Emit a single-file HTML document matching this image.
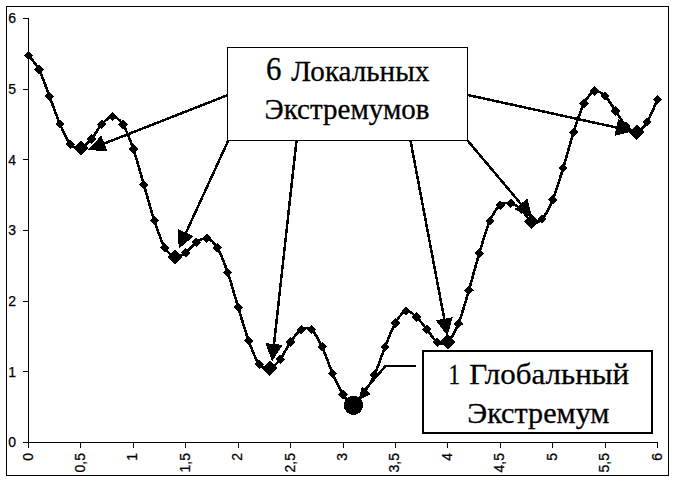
<!DOCTYPE html>
<html><head><meta charset="utf-8"><style>
html,body{margin:0;padding:0;background:#fff;width:676px;height:483px;overflow:hidden}
svg{display:block}
</style></head><body>
<svg width="676" height="483" viewBox="0 0 676 483">
<g fill="#000" shape-rendering="crispEdges">
<rect x="6" y="6" width="663" height="1"/><rect x="6" y="475" width="663" height="1"/>
<rect x="6" y="6" width="1" height="470"/><rect x="668" y="6" width="1" height="470"/>
<rect x="28" y="18" width="1" height="425"/>
<rect x="23" y="442" width="635" height="1"/>
<rect x="23" y="18" width="6" height="1"/>
<rect x="23" y="89" width="6" height="1"/>
<rect x="23" y="159" width="6" height="1"/>
<rect x="23" y="230" width="6" height="1"/>
<rect x="23" y="301" width="6" height="1"/>
<rect x="23" y="371" width="6" height="1"/>
<rect x="23" y="442" width="6" height="1"/>
<rect x="28" y="442" width="1" height="6"/>
<rect x="80" y="442" width="1" height="6"/>
<rect x="133" y="442" width="1" height="6"/>
<rect x="185" y="442" width="1" height="6"/>
<rect x="238" y="442" width="1" height="6"/>
<rect x="290" y="442" width="1" height="6"/>
<rect x="343" y="442" width="1" height="6"/>
<rect x="395" y="442" width="1" height="6"/>
<rect x="447" y="442" width="1" height="6"/>
<rect x="500" y="442" width="1" height="6"/>
<rect x="552" y="442" width="1" height="6"/>
<rect x="605" y="442" width="1" height="6"/>
<rect x="657" y="442" width="1" height="6"/>
</g>
<g font-family="Liberation Sans, sans-serif" font-size="14" fill="#000" stroke="#000" stroke-width="0.25">
<text x="16" y="23.2" text-anchor="end">6</text>
<text x="16" y="93.9" text-anchor="end">5</text>
<text x="16" y="164.5" text-anchor="end">4</text>
<text x="16" y="235.2" text-anchor="end">3</text>
<text x="16" y="305.9" text-anchor="end">2</text>
<text x="16" y="376.5" text-anchor="end">1</text>
<text x="16" y="447.2" text-anchor="end">0</text>
<text transform="translate(28.5,453) rotate(-90)" x="0" y="4" text-anchor="end">0</text>
<text transform="translate(80.9,453) rotate(-90)" x="0" y="4" text-anchor="end">0,5</text>
<text transform="translate(133.3,453) rotate(-90)" x="0" y="4" text-anchor="end">1</text>
<text transform="translate(185.8,453) rotate(-90)" x="0" y="4" text-anchor="end">1,5</text>
<text transform="translate(238.2,453) rotate(-90)" x="0" y="4" text-anchor="end">2</text>
<text transform="translate(290.6,453) rotate(-90)" x="0" y="4" text-anchor="end">2,5</text>
<text transform="translate(343.0,453) rotate(-90)" x="0" y="4" text-anchor="end">3</text>
<text transform="translate(395.4,453) rotate(-90)" x="0" y="4" text-anchor="end">3,5</text>
<text transform="translate(447.8,453) rotate(-90)" x="0" y="4" text-anchor="end">4</text>
<text transform="translate(500.2,453) rotate(-90)" x="0" y="4" text-anchor="end">4,5</text>
<text transform="translate(552.7,453) rotate(-90)" x="0" y="4" text-anchor="end">5</text>
<text transform="translate(605.1,453) rotate(-90)" x="0" y="4" text-anchor="end">5,5</text>
<text transform="translate(657.5,453) rotate(-90)" x="0" y="4" text-anchor="end">6</text>
</g>
<path d="M28.50,55.60 C30.25,57.92 35.49,62.73 38.98,69.50 C42.48,76.27 45.97,87.12 49.47,96.20 C52.96,105.28 56.46,116.00 59.95,124.00 C63.44,132.00 66.94,140.20 70.43,144.20 C73.93,148.20 77.42,148.87 80.92,148.00 C84.41,147.13 87.91,142.97 91.40,139.00 C94.89,135.03 98.39,127.93 101.88,124.20 C105.38,120.47 108.87,116.55 112.37,116.60 C115.86,116.65 119.36,119.10 122.85,124.50 C126.34,129.90 129.84,138.97 133.33,149.00 C136.83,159.03 140.32,172.78 143.82,184.70 C147.31,196.62 150.81,210.02 154.30,220.50 C157.79,230.98 161.29,241.53 164.78,247.60 C168.28,253.67 171.77,256.03 175.27,256.90 C178.76,257.77 182.26,255.22 185.75,252.80 C189.24,250.38 192.74,244.82 196.23,242.40 C199.73,239.98 203.22,237.43 206.72,238.30 C210.21,239.17 213.71,241.90 217.20,247.60 C220.69,253.30 224.19,262.57 227.68,272.50 C231.18,282.43 234.67,295.83 238.17,307.20 C241.66,318.57 245.16,331.18 248.65,340.70 C252.14,350.22 255.64,359.73 259.13,364.30 C262.63,368.87 266.12,368.92 269.62,368.10 C273.11,367.28 276.61,363.75 280.10,359.40 C283.59,355.05 287.09,346.95 290.58,342.00 C294.08,337.05 297.57,331.75 301.07,329.70 C304.56,327.65 308.06,326.87 311.55,329.70 C315.04,332.53 318.54,339.43 322.03,346.70 C325.53,353.97 329.02,365.35 332.52,373.30 C336.01,381.25 339.51,389.07 343.00,394.40 C346.49,399.73 349.99,405.50 353.48,405.30 C356.98,405.10 360.47,398.25 363.97,393.20 C367.46,388.15 370.96,382.67 374.45,375.00 C377.94,367.33 381.44,355.88 384.93,347.20 C388.43,338.52 391.92,328.93 395.42,322.90 C398.91,316.87 402.41,311.98 405.90,311.00 C409.39,310.02 412.89,313.93 416.38,317.00 C419.88,320.07 423.37,325.20 426.87,329.40 C430.36,333.60 433.86,340.15 437.35,342.20 C440.84,344.25 444.34,344.73 447.83,341.70 C451.33,338.67 454.82,332.53 458.32,324.00 C461.81,315.47 465.31,302.28 468.80,290.50 C472.29,278.72 475.79,264.88 479.28,253.30 C482.78,241.72 486.27,229.02 489.77,221.00 C493.26,212.98 496.76,208.15 500.25,205.20 C503.74,202.25 507.24,202.58 510.73,203.30 C514.23,204.02 517.72,206.43 521.22,209.50 C524.71,212.57 528.21,220.12 531.70,221.70 C535.19,223.28 538.69,222.67 542.18,219.00 C545.68,215.33 549.17,208.18 552.67,199.70 C556.16,191.22 559.66,179.37 563.15,168.10 C566.64,156.83 570.14,142.87 573.63,132.10 C577.13,121.33 580.62,110.33 584.12,103.50 C587.61,96.67 591.11,92.33 594.60,91.10 C598.09,89.87 601.59,92.78 605.08,96.10 C608.58,99.42 612.07,106.03 615.57,111.00 C619.06,115.97 622.56,122.38 626.05,125.90 C629.54,129.42 633.04,132.72 636.53,132.10 C640.03,131.48 643.52,127.67 647.02,122.20 C650.51,116.73 655.75,103.12 657.50,99.30" fill="none" stroke="#000" stroke-width="2.6" shape-rendering="crispEdges"/>
<g fill="#000" shape-rendering="crispEdges"><path d="M28.50,50.90L33.20,55.60L28.50,60.30L23.80,55.60Z"/><path d="M38.98,64.80L43.68,69.50L38.98,74.20L34.28,69.50Z"/><path d="M49.47,91.50L54.17,96.20L49.47,100.90L44.77,96.20Z"/><path d="M59.95,119.30L64.65,124.00L59.95,128.70L55.25,124.00Z"/><path d="M70.43,139.50L75.13,144.20L70.43,148.90L65.73,144.20Z"/><path d="M80.92,140.40L88.52,148.00L80.92,155.60L73.32,148.00Z"/><path d="M91.40,134.30L96.10,139.00L91.40,143.70L86.70,139.00Z"/><path d="M101.88,119.50L106.58,124.20L101.88,128.90L97.18,124.20Z"/><path d="M112.37,111.90L117.07,116.60L112.37,121.30L107.67,116.60Z"/><path d="M122.85,119.80L127.55,124.50L122.85,129.20L118.15,124.50Z"/><path d="M133.33,144.30L138.03,149.00L133.33,153.70L128.63,149.00Z"/><path d="M143.82,180.00L148.52,184.70L143.82,189.40L139.12,184.70Z"/><path d="M154.30,215.80L159.00,220.50L154.30,225.20L149.60,220.50Z"/><path d="M164.78,242.90L169.48,247.60L164.78,252.30L160.08,247.60Z"/><path d="M175.27,249.30L182.87,256.90L175.27,264.50L167.67,256.90Z"/><path d="M185.75,248.10L190.45,252.80L185.75,257.50L181.05,252.80Z"/><path d="M196.23,237.70L200.93,242.40L196.23,247.10L191.53,242.40Z"/><path d="M206.72,233.60L211.42,238.30L206.72,243.00L202.02,238.30Z"/><path d="M217.20,242.90L221.90,247.60L217.20,252.30L212.50,247.60Z"/><path d="M227.68,267.80L232.38,272.50L227.68,277.20L222.98,272.50Z"/><path d="M238.17,302.50L242.87,307.20L238.17,311.90L233.47,307.20Z"/><path d="M248.65,336.00L253.35,340.70L248.65,345.40L243.95,340.70Z"/><path d="M259.13,359.60L263.83,364.30L259.13,369.00L254.43,364.30Z"/><path d="M269.62,360.50L277.22,368.10L269.62,375.70L262.02,368.10Z"/><path d="M280.10,354.70L284.80,359.40L280.10,364.10L275.40,359.40Z"/><path d="M290.58,337.30L295.28,342.00L290.58,346.70L285.88,342.00Z"/><path d="M301.07,325.00L305.77,329.70L301.07,334.40L296.37,329.70Z"/><path d="M311.55,325.00L316.25,329.70L311.55,334.40L306.85,329.70Z"/><path d="M322.03,342.00L326.73,346.70L322.03,351.40L317.33,346.70Z"/><path d="M332.52,368.60L337.22,373.30L332.52,378.00L327.82,373.30Z"/><path d="M343.00,389.70L347.70,394.40L343.00,399.10L338.30,394.40Z"/><circle cx="353.48" cy="405.30" r="9.6"/><path d="M363.97,388.50L368.67,393.20L363.97,397.90L359.27,393.20Z"/><path d="M374.45,370.30L379.15,375.00L374.45,379.70L369.75,375.00Z"/><path d="M384.93,342.50L389.63,347.20L384.93,351.90L380.23,347.20Z"/><path d="M395.42,318.20L400.12,322.90L395.42,327.60L390.72,322.90Z"/><path d="M405.90,306.30L410.60,311.00L405.90,315.70L401.20,311.00Z"/><path d="M416.38,312.30L421.08,317.00L416.38,321.70L411.68,317.00Z"/><path d="M426.87,324.70L431.57,329.40L426.87,334.10L422.17,329.40Z"/><path d="M437.35,337.50L442.05,342.20L437.35,346.90L432.65,342.20Z"/><path d="M447.83,334.10L455.43,341.70L447.83,349.30L440.23,341.70Z"/><path d="M458.32,319.30L463.02,324.00L458.32,328.70L453.62,324.00Z"/><path d="M468.80,285.80L473.50,290.50L468.80,295.20L464.10,290.50Z"/><path d="M479.28,248.60L483.98,253.30L479.28,258.00L474.58,253.30Z"/><path d="M489.77,216.30L494.47,221.00L489.77,225.70L485.07,221.00Z"/><path d="M500.25,200.50L504.95,205.20L500.25,209.90L495.55,205.20Z"/><path d="M510.73,198.60L515.43,203.30L510.73,208.00L506.03,203.30Z"/><path d="M521.22,204.80L525.92,209.50L521.22,214.20L516.52,209.50Z"/><path d="M531.70,214.10L539.30,221.70L531.70,229.30L524.10,221.70Z"/><path d="M542.18,214.30L546.88,219.00L542.18,223.70L537.48,219.00Z"/><path d="M552.67,195.00L557.37,199.70L552.67,204.40L547.97,199.70Z"/><path d="M563.15,163.40L567.85,168.10L563.15,172.80L558.45,168.10Z"/><path d="M573.63,127.40L578.33,132.10L573.63,136.80L568.93,132.10Z"/><path d="M584.12,98.80L588.82,103.50L584.12,108.20L579.42,103.50Z"/><path d="M594.60,86.40L599.30,91.10L594.60,95.80L589.90,91.10Z"/><path d="M605.08,91.40L609.78,96.10L605.08,100.80L600.38,96.10Z"/><path d="M615.57,106.30L620.27,111.00L615.57,115.70L610.87,111.00Z"/><path d="M626.05,121.20L630.75,125.90L626.05,130.60L621.35,125.90Z"/><path d="M636.53,124.50L644.13,132.10L636.53,139.70L628.93,132.10Z"/><path d="M647.02,117.50L651.72,122.20L647.02,126.90L642.32,122.20Z"/><path d="M657.50,94.60L662.20,99.30L657.50,104.00L652.80,99.30Z"/></g>
<g stroke="#000" fill="#000" shape-rendering="crispEdges"><line x1="227.50" y1="95.20" x2="102.03" y2="144.39" stroke-width="2.5"/><path d="M89.00,149.50L101.07,136.44L106.72,150.88Z"/><line x1="228.30" y1="140.50" x2="184.94" y2="234.98" stroke-width="2.5"/><path d="M179.10,247.70L178.73,229.93L192.82,236.39Z"/><line x1="296.50" y1="140.50" x2="273.74" y2="346.48" stroke-width="2.5"/><path d="M272.20,360.40L266.25,343.65L281.66,345.35Z"/><line x1="410.50" y1="140.50" x2="444.70" y2="321.24" stroke-width="2.5"/><path d="M447.30,335.00L436.71,320.72L451.94,317.84Z"/><line x1="467.40" y1="140.30" x2="522.49" y2="205.79" stroke-width="2.5"/><path d="M531.50,216.50L515.27,209.24L527.13,199.27Z"/><line x1="467.40" y1="94.90" x2="618.82" y2="128.01" stroke-width="2.5"/><path d="M632.50,131.00L615.21,135.15L618.52,120.01Z"/></g>
<rect x="227.5" y="47.5" width="240" height="93" fill="#fff" stroke="#000" stroke-width="1.4" shape-rendering="crispEdges"/>
<g font-family="Liberation Serif, serif" fill="#000" stroke="#000" stroke-width="0.3">
<text x="266.00" y="80.0" font-size="34.5" textLength="15.45" lengthAdjust="spacingAndGlyphs">6</text>
<text x="291.30" y="81.0" font-size="29.3" textLength="138.04" lengthAdjust="spacingAndGlyphs">Локальных</text>
<text x="264.60" y="119.0" font-size="29.3" textLength="164.88" lengthAdjust="spacingAndGlyphs">Экстремумов</text>
</g>
<polyline points="415.5,366 385.5,366 363,392" fill="none" stroke="#000" stroke-width="2.5" shape-rendering="crispEdges"/>
<path d="M358,401 L362,386.5 L370.5,394 Z" fill="#000" shape-rendering="crispEdges"/>
<rect x="423" y="351" width="229" height="82" fill="#fff" stroke="#000" stroke-width="2" shape-rendering="crispEdges"/>
<g font-family="Liberation Serif, serif" fill="#000" stroke="#000" stroke-width="0.3">
<text x="448.40" y="384.0" font-size="29.3" textLength="11.46" lengthAdjust="spacingAndGlyphs">1</text>
<text x="469.30" y="384.0" font-size="30.0" textLength="159.83" lengthAdjust="spacingAndGlyphs">Глобальный</text>
<text x="467.30" y="423.0" font-size="30.0" textLength="142.13" lengthAdjust="spacingAndGlyphs">Экстремум</text>
</g>
</svg>
</body></html>
